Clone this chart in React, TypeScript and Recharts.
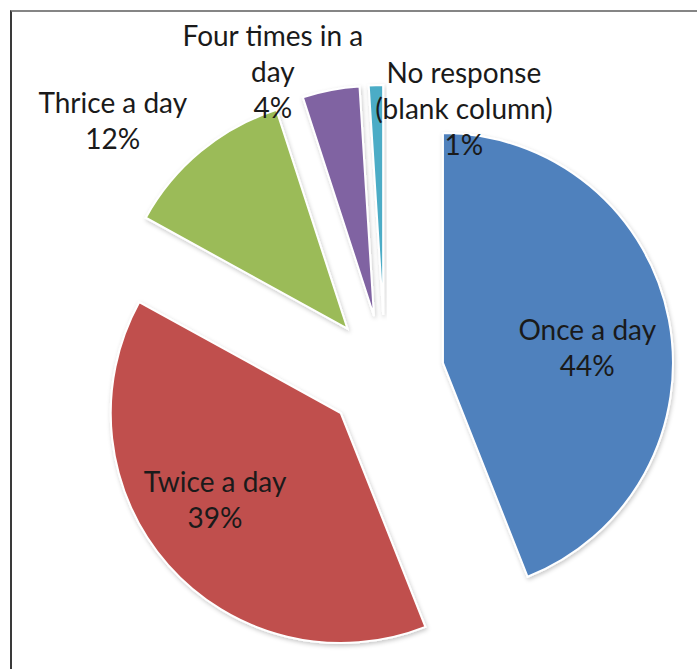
import { PieChart, Pie, Cell, Sector } from "recharts";

const CATEGORIES = [
  "Once a day",
  "Twice a day",
  "Thrice a day",
  "Four times in a\nday",
  "No response\n(blank column)",
];
const SHARES = [44, 39, 12, 4, 1];
const COLORS = ["#4F81BD", "#C0504D", "#9BBB59", "#8064A2", "#4BACC6"];

// label anchor: distance from the slice tip as a fraction of the radius, then a nudge
const LABEL_RADIUS = [0.63, 0.63, 1, 1, 1];
const LABEL_NUDGE: [number, number][] = [
  [2, 12],
  [-17, -9],
  [-88, -30],
  [-58, -18],
  [88, 24],
];

const WIDTH = 697;
const HEIGHT = 669;
const RADIUS = 230;
const EXPLODE = 59;
const LINE_HEIGHT = 36;
const FONT_SIZE = 28;
const RAD = Math.PI / 180;

const data = CATEGORIES.map((name, i) => ({ name, value: SHARES[i] }));

function polar(cx: number, cy: number, angle: number, dist: number) {
  return [cx + dist * Math.cos(-angle * RAD), cy + dist * Math.sin(-angle * RAD)];
}

function ExplodedSlice(props: any) {
  const [x, y] = polar(props.cx, props.cy, props.midAngle, EXPLODE);
  return (
    <g filter="url(#sliceShadow)">
      <Sector {...props} cx={x} cy={y} />
    </g>
  );
}

function renderLabel(props: any) {
  const { cx, cy, midAngle, outerRadius, index, value } = props;
  const [ax, ay] = polar(cx, cy, midAngle, EXPLODE);
  const [px, py] = polar(ax, ay, midAngle, outerRadius * LABEL_RADIUS[index]);
  const x = px + LABEL_NUDGE[index][0];
  const y = py + LABEL_NUDGE[index][1];
  const lines = [...CATEGORIES[index].split("\n"), `${value}%`];
  const top = y - ((lines.length - 1) * LINE_HEIGHT) / 2 + FONT_SIZE * 0.35;
  return (
    <text
      x={x}
      y={top}
      textAnchor="middle"
      fill="#1a1a1a"
      fontSize={FONT_SIZE}
      fontFamily="Lato, 'Open Sans', sans-serif"
    >
      {lines.map((line, k) => (
        <tspan key={k} x={x} y={top + k * LINE_HEIGHT}>
          {line}
        </tspan>
      ))}
    </text>
  );
}

export default function App() {
  return (
    <div
      style={{
        position: "absolute",
        left: 0,
        top: 0,
        width: WIDTH,
        height: HEIGHT,
        background: "#fff",
        overflow: "hidden",
      }}
    >
      <div
        style={{
          position: "absolute",
          left: 10,
          top: 10,
          width: WIDTH,
          height: HEIGHT,
          borderTop: "2px solid #858585",
          borderLeft: "2px solid #3a3a3a",
        }}
      />
      <div style={{ position: "absolute", left: 0, top: 0 }}>
        <PieChart width={WIDTH} height={HEIGHT} margin={{ top: 0, right: 0, bottom: 0, left: 0 }}>
          <defs>
            <filter id="sliceShadow" x="-20%" y="-20%" width="140%" height="140%">
              <feDropShadow dx="1" dy="2" stdDeviation="2" floodColor="#000" floodOpacity="0.22" />
            </filter>
          </defs>
          <Pie
            data={data}
            dataKey="value"
            nameKey="name"
            cx={385}
            cy={374}
            outerRadius={RADIUS}
            startAngle={90}
            endAngle={-270}
            stroke="#ffffff"
            strokeWidth={2}
            shape={ExplodedSlice}
            label={renderLabel}
            labelLine={false}
            isAnimationActive={false}
          >
            {data.map((d, i) => (
              <Cell key={d.name} fill={COLORS[i]} />
            ))}
          </Pie>
        </PieChart>
      </div>
    </div>
  );
}
